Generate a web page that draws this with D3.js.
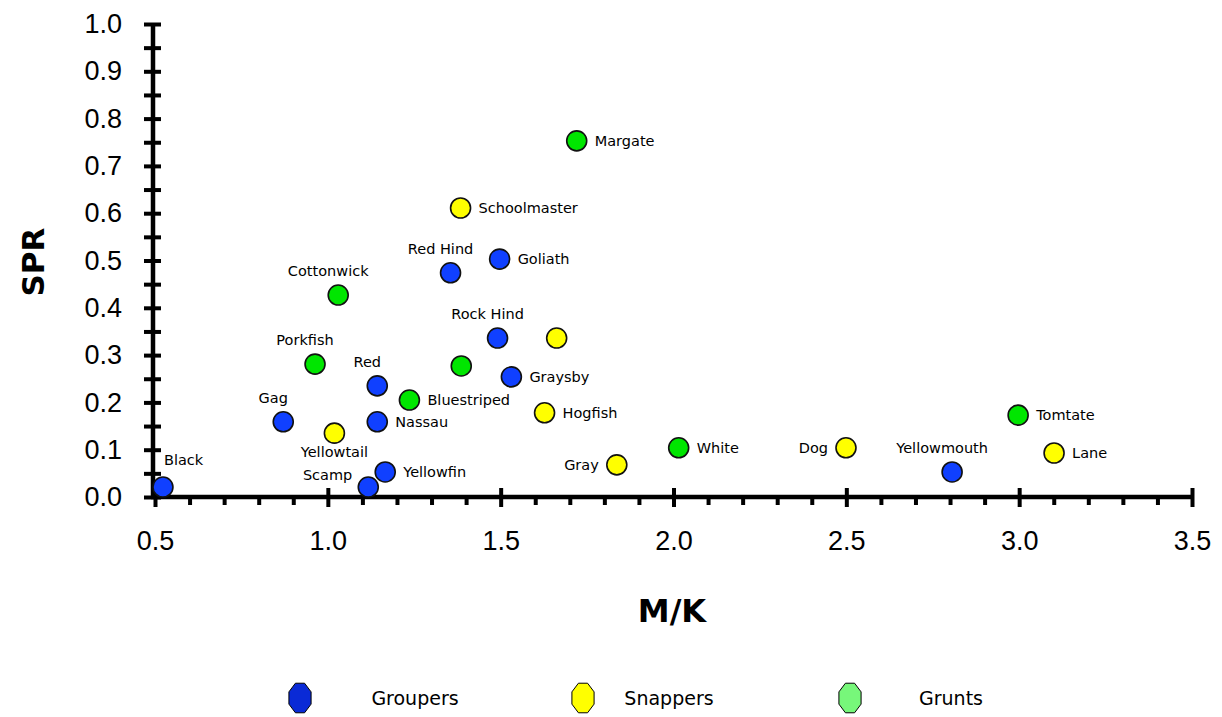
<!DOCTYPE html>
<html><head><meta charset="utf-8">
<script src="https://cdn.jsdelivr.net/npm/d3@7"></script>
<style>
body{margin:0;background:#fff;}
svg{display:block;}
.lbl{font-family:"Comic Sans MS","DejaVu Sans",sans-serif;font-size:14.5px;fill:#000;}
</style></head><body>
<svg id="chart" width="1222" height="717"></svg>
<script>
const names = ["Black","Gag","Yellowtail","Scamp","Yellowfin","Nassau","Red","Bluestriped","Porkfish","Cottonwick","Red Hind","Goliath","Schoolmaster","Margate","Rock Hind","","","Graysby","Hogfish","Gray","White","Dog","Yellowmouth","Tomtate","Lane"];
const groups = ["Groupers","Groupers","Snappers","Groupers","Groupers","Groupers","Groupers","Grunts","Grunts","Grunts","Groupers","Groupers","Snappers","Grunts","Groupers","Snappers","Grunts","Groupers","Snappers","Snappers","Grunts","Snappers","Groupers","Grunts","Snappers"];
const mk = [0.523,0.871,1.019,1.117,1.166,1.143,1.143,1.236,0.963,1.030,1.355,1.497,1.384,1.720,1.491,1.662,1.386,1.531,1.627,1.836,2.015,2.499,2.806,2.997,3.101];
const spr = [0.021,0.159,0.135,0.021,0.053,0.159,0.235,0.205,0.281,0.427,0.474,0.503,0.611,0.753,0.336,0.336,0.277,0.254,0.178,0.068,0.104,0.104,0.053,0.173,0.093];
const labelSide = ["tr","t","b","tl","r","r","t","r","t","t","t","r","r","r","t","","","r","r","l","r","l","t","r","r"];
const legendNames = ["Groupers","Snappers","Grunts"];
const pointColors = ["#1040ff","#ffff00","#00e600"];
const legendColors = ["#0a2ad6","#ffff00","#77f77a"];
const xTicks = [0.5,1.0,1.5,2.0,2.5,3.0,3.5];
const yTicks = [0.0,0.1,0.2,0.3,0.4,0.5,0.6,0.7,0.8,0.9,1.0];

const svg = d3.select("#chart");
const x = d3.scaleLinear().domain([0.5,3.5]).range([155,1192]);
const y = d3.scaleLinear().domain([0,1]).range([497,24]);
const color = d3.scaleOrdinal().domain(legendNames).range(pointColors);
const lcolor = d3.scaleOrdinal().domain(legendNames).range(legendColors);

// Y axis
const yMinor = d3.range(0,1.0001,0.05).map(v=>+v.toFixed(2));
const yAx = svg.append("g").attr("transform",`translate(${x(0.5)-2},0)`)
  .attr("font-family","'Liberation Sans',Arial,sans-serif")
  .call(d3.axisLeft(y).tickValues(yMinor).tickSize(9).tickPadding(22)
    .tickFormat(d=> yTicks.some(t=>Math.abs(t-d)<1e-6) ? d3.format(".1f")(d) : ""));
yAx.attr("font-family","'Liberation Sans',Arial,sans-serif");
yAx.select(".domain").attr("stroke-width",4.5).attr("d",`M0,${y(1)}V${y(0)}`);
yAx.selectAll(".tick line").attr("x1",8).attr("stroke-width",4);
yAx.selectAll(".tick text").attr("font-family","'Liberation Sans',Arial,sans-serif").attr("font-size",27).attr("fill","#000");

// X axis
const xMinor = d3.range(0.5,3.5001,0.1).map(v=>+v.toFixed(2));
const xAx = svg.append("g").attr("transform",`translate(0,${y(0)})`)
  .call(d3.axisBottom(x).tickValues(xMinor).tickSize(9).tickPadding(25)
    .tickFormat(d=> xTicks.some(t=>Math.abs(t-d)<1e-6) ? d3.format(".1f")(d) : ""));
xAx.attr("font-family","'Liberation Sans',Arial,sans-serif");
xAx.select(".domain").attr("stroke-width",4.5).attr("d",`M${x(0.5)-4},0H${x(3.5)+2}`);
xAx.selectAll(".tick line").attr("stroke-width",4)
  .attr("y1",d=> xTicks.some(t=>Math.abs(t-d)<1e-6) ? -9 : 0)
  .attr("y2",d=> xTicks.some(t=>Math.abs(t-d)<1e-6) ? 10 : 8);
xAx.selectAll(".tick text").attr("font-family","'Liberation Sans',Arial,sans-serif").attr("font-size",27).attr("fill","#000");

// Axis titles
svg.append("text").attr("transform","translate(44,262) rotate(-90)").attr("text-anchor","middle")
  .attr("font-family","'Comic Sans MS','DejaVu Sans',sans-serif").attr("font-weight","bold").attr("font-size",31).text("SPR");
svg.append("text").attr("x",672).attr("y",622).attr("text-anchor","middle")
  .attr("font-family","'Comic Sans MS','DejaVu Sans',sans-serif").attr("font-weight","bold").attr("font-size",32).text("M/K");

// Points
const data = names.map((n,i)=>({name:n,g:groups[i],x:mk[i],y:spr[i],side:labelSide[i]}));
svg.append("g").selectAll("circle").data(data).join("circle")
  .attr("cx",d=>x(d.x)).attr("cy",d=>y(d.y)).attr("r",10)
  .attr("fill",d=>color(d.g)).attr("stroke","#111").attr("stroke-width",1.6);

// Labels
const off = {r:[18,5,"start"], l:[-18,5,"end"], t:[-10,-19,"middle"], b:[0,24,"middle"], tr:[1,-22,"start"], tl:[-16,-7,"end"]};
svg.append("g").selectAll("text").data(data.filter(d=>d.name)).join("text")
  .attr("class","lbl")
  .attr("x",d=>x(d.x)+off[d.side][0]).attr("y",d=>y(d.y)+off[d.side][1])
  .attr("text-anchor",d=>off[d.side][2]).text(d=>d.name);

// Legend
const lx = d3.scaleOrdinal().domain(legendNames).range([300,583,850]);
const oct = (rx,ry)=> d3.line()(d3.range(8).map(k=>{const a=Math.PI/8+k*Math.PI/4;return [rx*Math.cos(a),ry*Math.sin(a)];}))+"Z";
const lg = svg.append("g").selectAll("g").data(legendNames).join("g")
  .attr("transform",d=>`translate(${lx(d)},698)`);
lg.append("path").attr("d",oct(12,16)).attr("fill",d=>lcolor(d)).attr("stroke","#000").attr("stroke-width",1);
lg.append("text").attr("x",d=>d==="Grunts"?101:d==="Snappers"?86:115).attr("y",7).attr("text-anchor","middle")
  .attr("font-family","'Comic Sans MS','DejaVu Sans',sans-serif").attr("font-size",19).text(d=>d);
</script>
</body></html>
